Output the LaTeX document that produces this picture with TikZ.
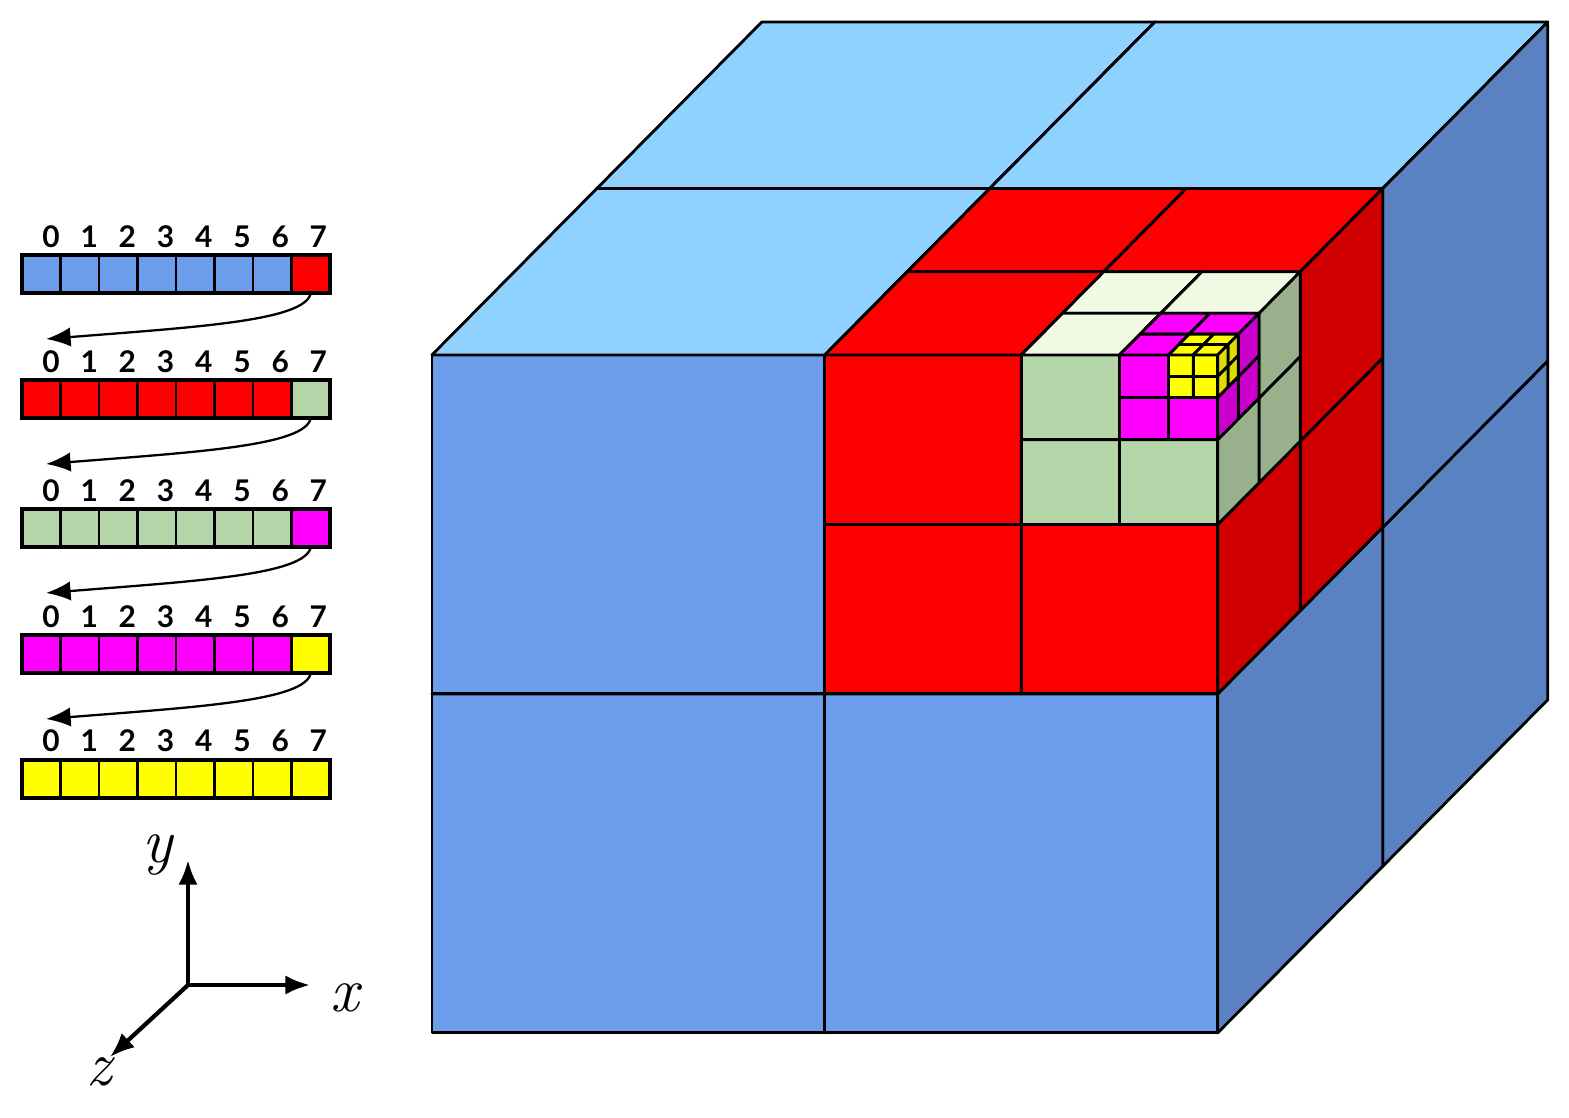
\documentclass[tikz,border=0pt]{standalone}
\usepackage{fontspec}
\setmainfont{Lato}
\newfontfamily\lato{Lato}
\usetikzlibrary{arrows.meta}
\definecolor{blueF}{HTML}{6D9EEB}\definecolor{blueT}{HTML}{8FD1FF}\definecolor{blueS}{HTML}{5A82C2}
\definecolor{redF}{HTML}{FF0000}\definecolor{redT}{HTML}{FF0000}\definecolor{redS}{HTML}{D00000}
\definecolor{grnF}{HTML}{B5D6A8}\definecolor{grnT}{HTML}{F2FAE4}\definecolor{grnS}{HTML}{98B08C}
\definecolor{magF}{HTML}{FF00FF}\definecolor{magT}{HTML}{FF00FF}\definecolor{magS}{HTML}{CC00CC}
\definecolor{yelF}{HTML}{FFFF00}\definecolor{yelT}{HTML}{FFFF00}\definecolor{yelS}{HTML}{DDDD00}
\newcommand\cub[5]{%
 \filldraw[fill=#5F] ({#1},{#2},{#3}) -- ({#1+#4},{#2},{#3}) -- ({#1+#4},{#2+#4},{#3}) -- ({#1},{#2+#4},{#3}) -- cycle;
 \filldraw[fill=#5T] ({#1},{#2+#4},{#3}) -- ({#1+#4},{#2+#4},{#3}) -- ({#1+#4},{#2+#4},{#3+#4}) -- ({#1},{#2+#4},{#3+#4}) -- cycle;
 \filldraw[fill=#5S] ({#1+#4},{#2},{#3}) -- ({#1+#4},{#2},{#3+#4}) -- ({#1+#4},{#2+#4},{#3+#4}) -- ({#1+#4},{#2+#4},{#3}) -- cycle;}
\newcommand\octs[5]{% X Y D h col : seven octants
 \cub{#1}{#2}{#3+#4}{#4}{#5}\cub{#1+#4}{#2}{#3+#4}{#4}{#5}%
 \cub{#1}{#2+#4}{#3+#4}{#4}{#5}\cub{#1+#4}{#2+#4}{#3+#4}{#4}{#5}%
 \cub{#1}{#2}{#3}{#4}{#5}\cub{#1+#4}{#2}{#3}{#4}{#5}\cub{#1}{#2+#4}{#3}{#4}{#5}}
\tikzset{cell/.style={draw,line width=1.4pt,minimum width=0.77cm,minimum height=0.76cm,inner sep=0,outer sep=0,anchor=north west},
 num/.style={font=\lato\bfseries\fontsize{17}{17}\selectfont,inner sep=0},
 link/.style={line width=1.3pt,-{Latex[length=14pt,width=11pt]}},
 axis/.style={line width=2.4pt,-{Latex[length=14pt,width=11pt]}},
 axl/.style={font=\fontspec{Latin Modern Roman}\itshape\fontsize{36}{36}\selectfont,inner sep=0}}
\begin{document}
\begin{tikzpicture}[x=0.02cm,y=-0.02cm]
\useasboundingbox (0,0) rectangle (1569,1118);
\begin{scope}[x={(15.72cm,0)},y={(0,13.56cm)},z={(6.6cm,6.66cm)},shift={(8.64cm,-20.66cm)},line width=1.6pt,line join=round]
\octs{0}{0}{0}{0.5}{blue}
\octs{0.5}{0.5}{0}{0.25}{red}
\octs{0.75}{0.75}{0}{0.125}{grn}
\octs{0.875}{0.875}{0}{0.0625}{mag}
\octs{0.9375}{0.9375}{0}{0.03125}{yel}
\cub{0.96875}{0.96875}{0}{0.03125}{yel}
\end{scope}
% arrays
\foreach \r/\top/\ny/\ca/\cb in {0/255/237/blueF/redF,1/380/362/redF/grnF,2/509/491/grnF/magF,3/635/617/magF/yelF,4/760/741/yelF/yelF}{
 \foreach \i in {0,...,6}{\node[cell,fill=\ca] (c\r-\i) at ({22+38.5*\i},\top) {};}
 \node[cell,fill=\cb] (c\r-7) at ({22+38.5*7},\top) {};
 \foreach \i in {0,...,7}{\node[num] (n\r-\i) at ({51+38.2*\i},\ny) {\i};}
 \draw[line width=2.8pt] (c\r-0.north west) rectangle (c\r-7.south east);
}
\foreach \r/\top in {0/255,1/380,2/509,3/635}{
 \coordinate (e\r) at (46,{\top+84});
 \draw[link] (c\r-7.south) .. controls +(-5,28) and +(150,-12) .. (e\r);
}
% axes
\coordinate (o) at (188,985);
\coordinate (ay) at (188,860);
\coordinate (ax) at (310,985);
\coordinate (az) at (110,1057);
\draw[axis] (o) -- (ay);
\draw[axis] (o) -- (ax);
\draw[axis] (o) -- (az);
\node[axl] (ly) at (158,855) {y};
\node[axl] (lx) at (345,998) {x};
\node[axl] (lz) at (99,1072) {z};
\end{tikzpicture}
\end{document}
